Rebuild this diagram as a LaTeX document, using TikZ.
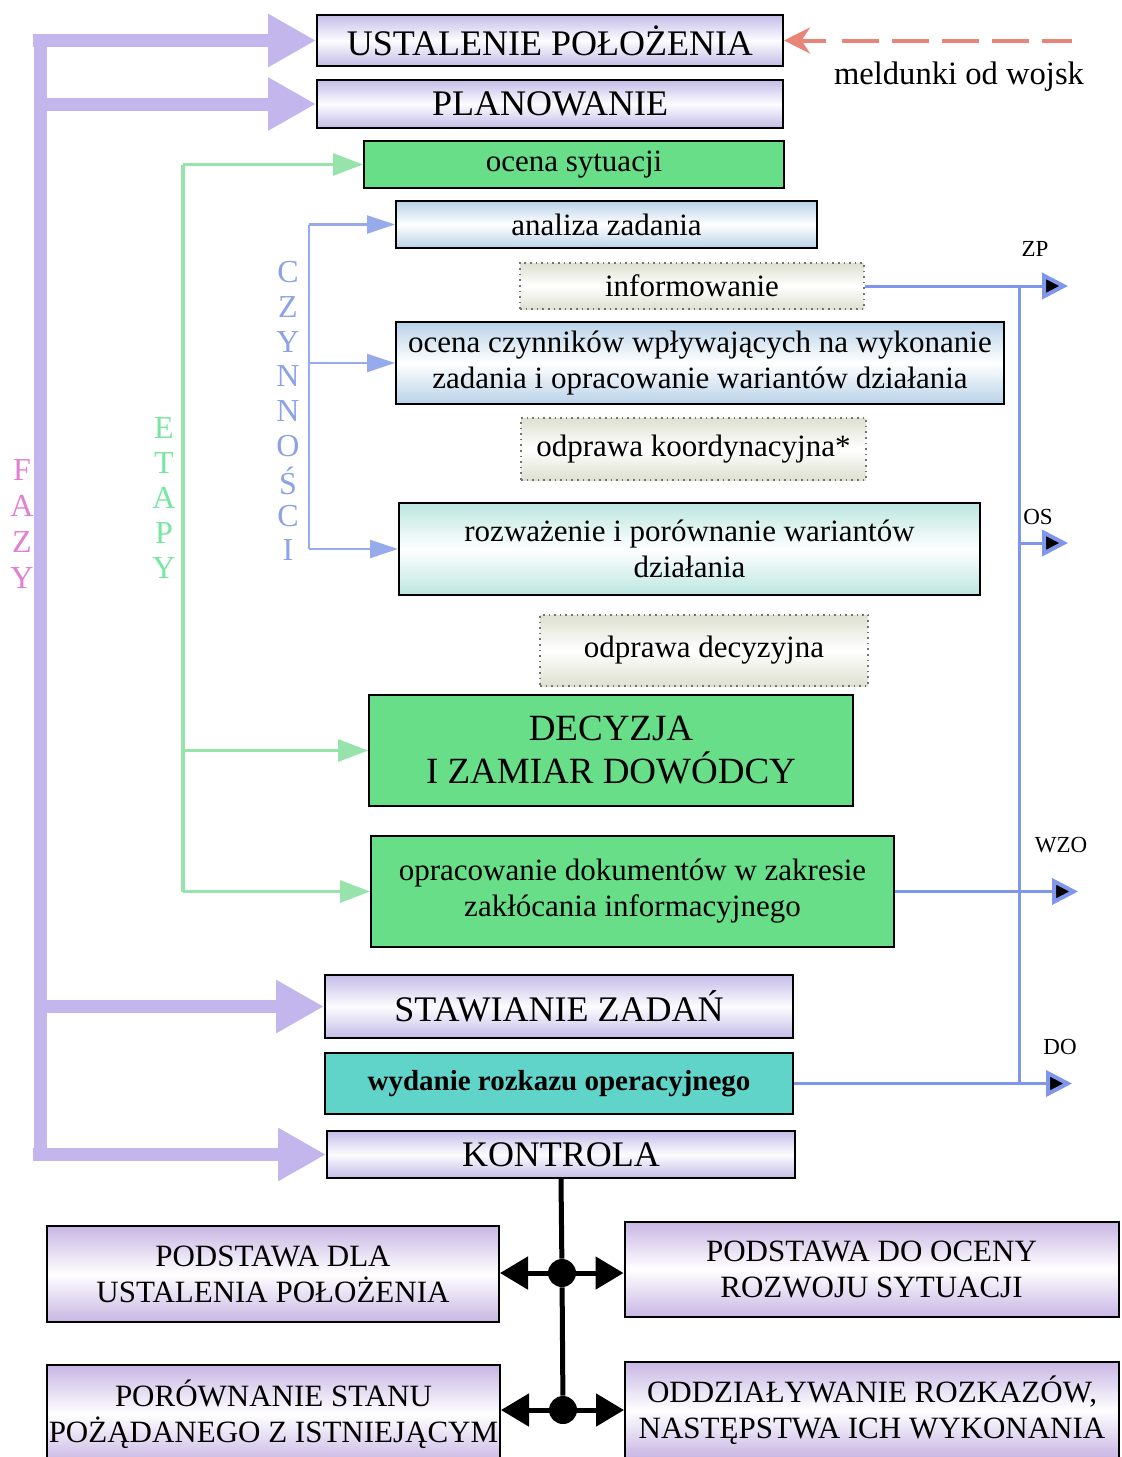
\documentclass[tikz,border=0pt]{standalone}
\usepackage{fontspec}
\setmainfont{Liberation Serif}
\usetikzlibrary{arrows.meta}

\definecolor{lavedge}{RGB}{196,188,232}
\definecolor{purpedge}{RGB}{200,182,228}
\definecolor{greenbox}{RGB}{104,222,136}
\definecolor{tealbox}{RGB}{96,212,200}
\definecolor{blueedge}{RGB}{184,210,232}
\definecolor{cyanedge}{RGB}{188,230,224}
\definecolor{beigeedge}{RGB}{222,224,208}
\definecolor{fazyc}{RGB}{194,182,236}
\definecolor{etapc}{RGB}{150,228,172}
\definecolor{czync}{RGB}{150,170,236}
\definecolor{outc}{RGB}{128,150,236}
\definecolor{fazytxt}{RGB}{226,126,212}
\definecolor{etaptxt}{RGB}{120,230,160}
\definecolor{czyntxt}{RGB}{140,162,232}
\definecolor{meldc}{RGB}{232,132,120}

\begin{document}
\begin{tikzpicture}[x=0.5pt,y=-0.5pt,
  box/.style={draw=black, line width=1pt, inner sep=0pt, align=center,
    font=\fontsize{15.5pt}{18pt}\selectfont},
  capsbox/.style={box, font=\fontsize{18pt}{21pt}\selectfont},
  lavbox/.style={top color=lavedge, bottom color=lavedge, middle color=white!96!lavedge},
  purpbox/.style={box, top color=purpedge, bottom color=purpedge, middle color=white,
    font=\fontsize{15.5pt}{18pt}\selectfont},
  greenfill/.style={fill=greenbox},
  bluebox/.style={top color=blueedge, bottom color=blueedge, middle color=white},
  cyanbox/.style={top color=cyanedge, bottom color=cyanedge, middle color=white},
  dotbox/.style={box, draw=black!55, line width=0.8pt, dotted,
    top color=beigeedge, bottom color=beigeedge, middle color=white},
  fazyarrow/.style={line width=6.5pt, draw=fazyc, -{Triangle[length=24pt,width=25pt]}},
  fazyline/.style={line width=6.5pt, draw=fazyc},
  etline/.style={line width=1.6pt, draw=etapc},
  etarrow/.style={etline, -{Triangle[length=15pt,width=11pt]}},
  czline/.style={line width=1.2pt, draw=czync},
  czarrow/.style={czline, -{Triangle[length=14pt,width=9pt]}},
  outline/.style={line width=1.5pt, draw=outc},
  outarrow/.style={outline, -{Triangle[length=13pt,width=13pt,fill=black,line width=2pt]}},
  ctrl/.style={line width=2.5pt, draw=black},
  ctrlarrow/.style={ctrl, {Triangle[length=14pt,width=16pt]}-{Triangle[length=14pt,width=16pt]}},
  meld/.style={line width=2pt, draw=meldc},
  vlet/.style={font=\fontsize{16pt}{18pt}\selectfont, inner sep=0pt},
  outlbl/.style={font=\fontsize{11.5pt}{13pt}\selectfont, inner sep=0pt}
]
\fill[white] (0,0) rectangle (1121,1457);
\useasboundingbox (0,0) rectangle (1121,1457);
\begin{scope}
\clip (0,0) rectangle (1121,1457);

% guide coordinates of the vertical lines
\coordinate (fz) at (40,0);
\coordinate (et) at (183,0);
\coordinate (cz) at (309,0);
\coordinate (outx) at (1019,0);
\coordinate (zpx) at (1068,0);
\coordinate (wzox) at (1078,0);
\coordinate (dox) at (1072,0);

% main column of steps
\node[capsbox, lavbox, minimum width=233pt, minimum height=25.5pt] (ust) at (550,40.5) {USTALENIE POŁOŻENIA};
\node[capsbox, lavbox, minimum width=233pt, minimum height=24pt] (plan) at (550,104) {PLANOWANIE};
\node[box, greenfill, minimum width=210pt, minimum height=23.5pt] (sit) at (574,164.5) {ocena sytuacji};
\node[box, bluebox, minimum width=210.5pt, minimum height=23.5pt] (anal) at (606.5,224.5) {analiza zadania};
\node[dotbox, minimum width=172pt, minimum height=23pt] (info) at (692,286) {informowanie};
\node[box, bluebox, minimum width=304pt, minimum height=41pt] (czyn) at (700,363)
  {ocena czynników wpływających na wykonanie\\zadania i opracowanie wariantów działania};
\node[dotbox, minimum width=172.5pt, minimum height=31pt] (koord) at (693.5,449) {odprawa koordynacyjna*};
\node[box, cyanbox, minimum width=290.5pt, minimum height=46pt] (rozw) at (689.5,549)
  {rozważenie i porównanie wariantów\\działania};
\node[dotbox, minimum width=164pt, minimum height=35.5pt] (decyz) at (704,650.5) {odprawa decyzyjna};
\node[capsbox, greenfill, minimum width=242pt, minimum height=55.5pt, font=\fontsize{18.5pt}{21.5pt}\selectfont] (dec) at (611,750.5)
  {DECYZJA\\I ZAMIAR DOWÓDCY};
\node[box, greenfill, minimum width=261.5pt, minimum height=55.5pt] (dok) at (632.5,891.5)
  {opracowanie dokumentów w zakresie\\zakłócania informacyjnego};
\node[capsbox, lavbox, minimum width=234pt, minimum height=31.5pt] (staw) at (559,1006.5) {STAWIANIE ZADAŃ};
\node[box, fill=tealbox, minimum width=234pt, minimum height=30.5pt, font=\bfseries\fontsize{14.5pt}{17pt}\selectfont] (rozk) at (559,1083.5) {wydanie rozkazu operacyjnego};
\node[capsbox, lavbox, minimum width=234pt, minimum height=23.5pt] (kon) at (561,1154.5) {KONTROLA};

% results of control
\node[purpbox, minimum width=226pt, minimum height=48pt] (pd1) at (273,1274) {PODSTAWA DLA\\USTALENIA POŁOŻENIA};
\node[purpbox, minimum width=247pt, minimum height=47.5pt] (pd2) at (871.5,1269.5) {PODSTAWA DO OCENY\\ROZWOJU SYTUACJI};
\node[purpbox, minimum width=226.5pt, minimum height=49pt] (por) at (273.5,1414) {PORÓWNANIE STANU\\POŻĄDANEGO Z ISTNIEJĄCYM};
\node[purpbox, minimum width=247pt, minimum height=48pt] (odd) at (872,1410) {ODDZIAŁYWANIE ROZKAZÓW,\\NASTĘPSTWA ICH WYKONANIA};

% phases
\draw[fazyline] (40,36) -- (40,1161);
\draw[fazyarrow] (ust.west -| fz) ++(-7,0) -- (ust.west);
\draw[fazyarrow] (plan.west -| fz) -- (plan.west);
\draw[fazyarrow] (staw.west -| fz) -- (staw.west);
\draw[fazyarrow] (kon.west -| fz) ++(-7,0) -- (kon.west);

% stages
\draw[etline] (sit.west -| et) -- (dok.west -| et);
\draw[etarrow] (sit.west -| et) -- (sit.west);
\draw[etarrow] (dec.west -| et) -- (dec.west);
\draw[etarrow] (dok.west -| et) -- (dok.west);

% activities
\draw[czline] (anal.west -| cz) -- (rozw.west -| cz);
\draw[czarrow] (anal.west -| cz) -- (anal.west);
\draw[czarrow] (czyn.west -| cz) -- (czyn.west);
\draw[czarrow] (rozw.west -| cz) -- (rozw.west);

% outputs to the right
\coordinate (osA) at (1019,543);
\coordinate (osB) at (1068,543);
\draw[outline] (info.east -| outx) -- (rozk.east -| outx);
\draw[outarrow] (info.east) -- (info.east -| zpx);
\draw[outarrow] (osA) -- (osB);
\draw[outarrow] (dok.east) -- (dok.east -| wzox);
\draw[outarrow] (rozk.east) -- (rozk.east -| dox);
\node[outlbl] (lzp) at (1035,249) {ZP};
\node[outlbl] (los) at (1038,517) {OS};
\node[outlbl] (lwzo) at (1061,845) {WZO};
\node[outlbl] (ldo) at (1060,1047) {DO};

% reports from troops
\coordinate (mdA) at (1072,40.5);
\coordinate (mdB) at (842,40.5);
\coordinate (mdC) at (826,40.5);
\draw[meld, dash pattern=on 18.5pt off 6.5pt] (mdB) -- (mdA);
\draw[meld, -{Stealth[length=13pt,width=13pt]}] (mdC) -- (ust.east);
\node[font=\fontsize{16.3pt}{19pt}\selectfont, inner sep=0pt] (meldl) at (959,77) {meldunki od wojsk};

% vertical captions
\foreach \ch [count=\i] in {F,A,Z,Y}
  \node[vlet, text=fazytxt] (fzl\i) at (22,{470+36*(\i-1)}) {\ch};
\foreach \ch [count=\i] in {E,T,A,P,Y}
  \node[vlet, text=etaptxt] (etl\i) at (164,{428+35*(\i-1)}) {\ch};
\foreach \ch [count=\i] in {C,Z,Y,N,N,O,Ś,C,I}
  \node[vlet, text=czyntxt] (czl\i) at (288,{272+34.8*(\i-1)}) {\ch};

% control links
\node[circle, fill=black, inner sep=0pt, minimum size=14pt] (dot1) at (562,1273) {};
\node[circle, fill=black, inner sep=0pt, minimum size=14pt] (dot2) at (563,1410) {};
\draw[ctrl] (kon.south) -- (dot1) -- (dot2);
\draw[ctrlarrow] (pd1.east |- dot1) -- (pd2.west |- dot1);
\draw[ctrlarrow] (por.east |- dot2) -- (odd.west |- dot2);
\end{scope}
\end{tikzpicture}
\end{document}
